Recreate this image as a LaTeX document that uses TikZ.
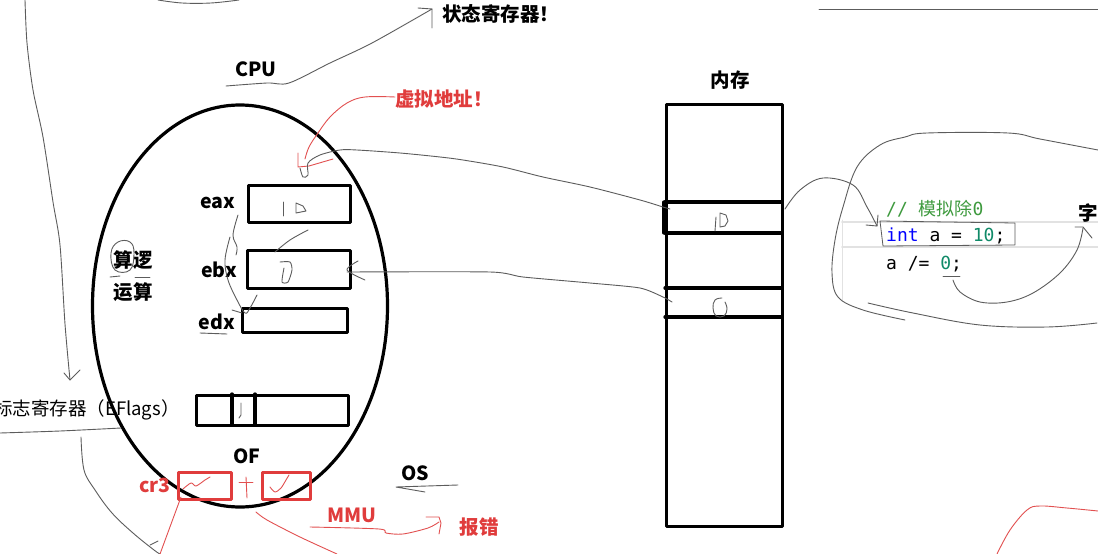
\documentclass[tikz,border=0pt]{standalone}
\usepackage{fontspec}
\setmainfont{Noto Sans CJK SC}
\newfontfamily\cjkreg{Noto Sans CJK SC}
\newfontfamily\codefont{DejaVu Sans Mono}
\definecolor{handc}{HTML}{5C5C5C}
\definecolor{pen}{HTML}{E25050}
\definecolor{redtxt}{HTML}{E03C3C}
\definecolor{cmt}{HTML}{3E9A3E}
\definecolor{num}{HTML}{108A68}
\definecolor{kw}{HTML}{0000FF}
\definecolor{hl}{HTML}{E2E2E2}
\tikzset{
  lbl/.style={font=\fontsize{19.5}{22}\selectfont\bfseries, inner sep=0pt},
  cjklbl/.style={font=\fontsize{19.5}{22}\selectfont\bfseries, inner sep=0pt},
  redlbl/.style={cjklbl, text=redtxt},
  thickbox/.style={draw=black, line width=3.3pt, inner sep=0pt, anchor=north west},
  redbox/.style={draw=redtxt, line width=2.8pt, inner sep=0pt, anchor=north west},
  hand/.style={draw=handc, line width=0.9pt},
  penline/.style={draw=pen, line width=0.9pt},
  code/.style={font=\codefont\fontsize{18}{21}\selectfont, inner sep=0pt, anchor=base west},
}
\begin{document}
\begin{tikzpicture}[x=1pt,y=-1pt,line join=round,line cap=round]
\useasboundingbox (0,0) rectangle (1098,554);
\fill[white] (0,0) rectangle (1098,554);

% ---------- CPU ellipse ----------
\draw[line width=3.2pt] (240,306) ellipse [x radius=147.5, y radius=201];
\node[lbl] (cpu) at (256,69) {CPU};
\node[cjklbl, anchor=west] (state) at (442,14) {状态寄存器！};
\draw[hand] plot[smooth, tension=0.5] coordinates {(226,86) (267,83) (289,83) (330,63) (372,43) (432,9)};
\draw[hand] (418,8) -- (432,9) -- (432,28);

% virtual address
\node[redlbl, anchor=west] (va) at (395,99) {虚拟地址！};
\draw[penline] plot[smooth, tension=0.6] coordinates {(395,97) (365,97) (347,103) (330,117) (318,133) (309,147) (305,159)};
\draw[penline] (298,153) -- (298,167) -- (309,166) -- (333,159);

% registers
\node[thickbox, minimum width=102pt, minimum height=37pt] (eax) at (247,184) {};
\node[thickbox, minimum width=103pt, minimum height=38pt] (ebx) at (246,249) {};
\node[thickbox, minimum width=105pt, minimum height=24pt] (edx) at (241,307) {};
\node[lbl] (eaxl) at (218,203) {eax};
\node[lbl] (ebxl) at (219,270) {ebx};
\node[lbl] (edxl) at (217,322) {edx};
\draw[hand] (200,333) -- (227,334);

% hand digits in registers
\draw[hand] (283,202) -- (283,216);
\draw[hand] (296,213) -- (296,203) -- (303,206) -- (306,211) -- cycle;
\draw[hand] plot[smooth, tension=0.4] coordinates {(280,262) (290,262) (292,270) (288,282) (282,282) (284,268)};

% scribbles inside CPU
\draw[hand] plot[smooth, tension=0.6] coordinates {(238,215) (233,235) (237,247) (236,255)};
\draw[hand] plot[smooth, tension=0.6] coordinates {(230,237) (225,260) (228,280) (237,300) (245,313) (250,308) (257,295)};
\draw[hand] (232,310) -- (242,313);
\draw[hand] plot[smooth, tension=0.6] coordinates {(275,252) (290,240) (308,230)};

% ALU label
\node[cjklbl] (alu1) at (133,260) {算逻};
\node[cjklbl] (alu2) at (133,292) {运算};
\draw[hand] plot[smooth cycle, tension=0.7] coordinates {(111,253) (118,242) (130,242) (134,253) (130,270) (115,270)};
\draw[hand] (110,277) -- (120,276);
\draw[hand] (135,277) -- (150,277);

% flags register
\node[thickbox, minimum width=152pt, minimum height=30pt] (flags) at (195,394) {};
\draw[line width=3.3pt] (232,394) -- (232,424);
\draw[line width=3.3pt] (255,394) -- (255,424);
\draw[hand] (241,403) -- (241,415) -- (239,418);
\node[font=\fontsize{18.5}{21}\selectfont, inner sep=0pt, anchor=west] (eflags) at (-6,410) {标志寄存器（EFlags）};
\draw[hand] plot[smooth, tension=0.5] coordinates {(0,433) (60,431) (121,428)};
\draw[hand] plot[smooth, tension=0.6] coordinates {(81,437) (84,470) (95,490) (112,513) (133,533) (154,550) (160,554)};
\draw[hand] (150,545) -- (158,541);

% left long arrow
\draw[hand] plot[smooth, tension=0.5] coordinates {(25,0) (27,43) (33,90) (43,137) (53,202) (60,245) (65,324) (70,380)};
\draw[hand] (64,373) -- (70,380) -- (80,370);
\draw[hand] plot[smooth, tension=0.6] coordinates {(158,0) (182,3) (211,3) (239,0)};

% OF, cr3, MMU
\node[lbl] (of) at (247,456) {OF};
\node[redbox, minimum width=53pt, minimum height=27pt] (cr3box) at (177,471) {};
\node[redbox, minimum width=48pt, minimum height=27pt] (ofbox) at (261,471) {};
\node[redlbl] (cr3) at (155,485) {cr3};
\draw[penline] plot[smooth, tension=0.5] coordinates {(183,489) (191,483) (196,486) (205,480) (210,477)};
\draw[penline] plot[smooth, tension=0.5] coordinates {(270,487) (275,492) (281,488) (286,480) (289,475)};
\draw[penline] (246,477) -- (247,498);
\draw[penline] (239,482) -- (253,482);
\draw[penline] (181,497) -- (160,554);
\draw[penline] plot[smooth, tension=0.5] coordinates {(256,512) (267,520) (300,537) (337,554)};

\node[lbl] (os) at (415,473) {OS};
\draw[hand] (458,485) -- (396,487) -- (425,492);

\node[redlbl] (mmu) at (352,515) {MMU};
\node[redlbl] (err) at (479,527) {报错};
\draw[penline] plot[smooth, tension=0.5] coordinates {(310,527) (379,529) (386,533) (403,534) (428,528) (439,522)};
\draw[penline] (426,517) -- (439,517) -- (441,523) -- (439,534);

% ---------- memory ----------
\node[cjklbl] (memlbl) at (730,80) {内存};
\node[thickbox, minimum width=116pt, minimum height=422pt] (mem) at (665,103) {};
\draw[line width=3.3pt] (665,202) -- (781,202);
\draw[line width=3.3pt] (665,233) -- (781,233);
\draw[line width=3.3pt] (665,288) -- (781,288);
\draw[line width=3.3pt] (665,317) -- (781,317);
\draw[line width=3.3pt] (664,202) -- (664,233);
\draw[hand] (716,217) -- (715,231);
\draw[hand] (720,227) -- (720,213) -- (726,215) -- (728,221) -- (725,226) -- cycle;
\draw[hand] plot[smooth, tension=0.7] coordinates {(722,298) (715,300) (713,308) (716,316) (724,316) (727,309) (725,302)};

% connectors CPU -> memory
\draw[hand] plot[smooth, tension=0.5] coordinates {(300,168) (303,177) (308,175) (308,163) (320,155) (340,150) (357,150) (400,153) (440,157) (463,160) (503,167) (543,177) (590,187) (640,200) (663,207) (670,209)};
\draw[hand] plot[smooth, tension=0.5] coordinates {(358,261) (347,270) (365,280)};
\draw[hand] plot[smooth, tension=0.4] coordinates {(347,272) (490,272) (523,277) (590,283) (640,288) (663,297) (672,302)};

% ---------- code ----------
\draw[hl, line width=2pt] (842,222) -- (1098,222);
\draw[hl, line width=2pt] (842,247) -- (1098,247);
\draw[hl, line width=1pt] (842,220) -- (842,300);
\node[code, text=cmt] (cmt) at (886,215) {// {\cjkreg 模拟除}0};
\node[code] (line1) at (886,241) {\textcolor{kw}{int} a = \textcolor{num}{10};};
\node[code] (line2) at (886,269) {a /= \textcolor{num}{0};};
\draw[hand, line width=0.8pt] (880,221) -- (1015,223) -- (1015,245) -- (883,246) -- cycle;
\draw[hand] (943,276) -- (960,276);
\node[cjklbl, anchor=west] (zi) at (1078,213) {字};

% memory -> code arrow
\draw[hand] plot[smooth, tension=0.6] coordinates {(785,209) (800,190) (823,178) (853,185) (867,207) (877,226)};
\draw[hand] (866,225) -- (877,226) -- (878,215);
% 0 -> 字 arrow
\draw[hand] plot[smooth, tension=0.6] coordinates {(953,280) (960,292) (980,302) (1007,302) (1033,293) (1060,273) (1077,250) (1083,228)};
\draw[hand] (1075,227) -- (1083,227) -- (1092,238);
% loop around code
\draw[hand] plot[smooth, tension=0.6] coordinates {(1098,150) (1040,139) (1008,133) (927,133) (905,137) (880,145) (857,167) (843,207) (835,240) (832,273) (838,297) (863,310) (905,320)};
\draw[hand] plot[smooth, tension=0.6] coordinates {(868,303) (913,313) (980,325) (1047,327) (1097,323)};
\draw[hand] (819,9) -- (1098,9);

% bottom right red stroke
\draw[penline] plot[smooth, tension=0.6] coordinates {(997,554) (1010,530) (1027,510) (1040,506) (1067,508) (1098,511)};
\end{tikzpicture}
\end{document}
